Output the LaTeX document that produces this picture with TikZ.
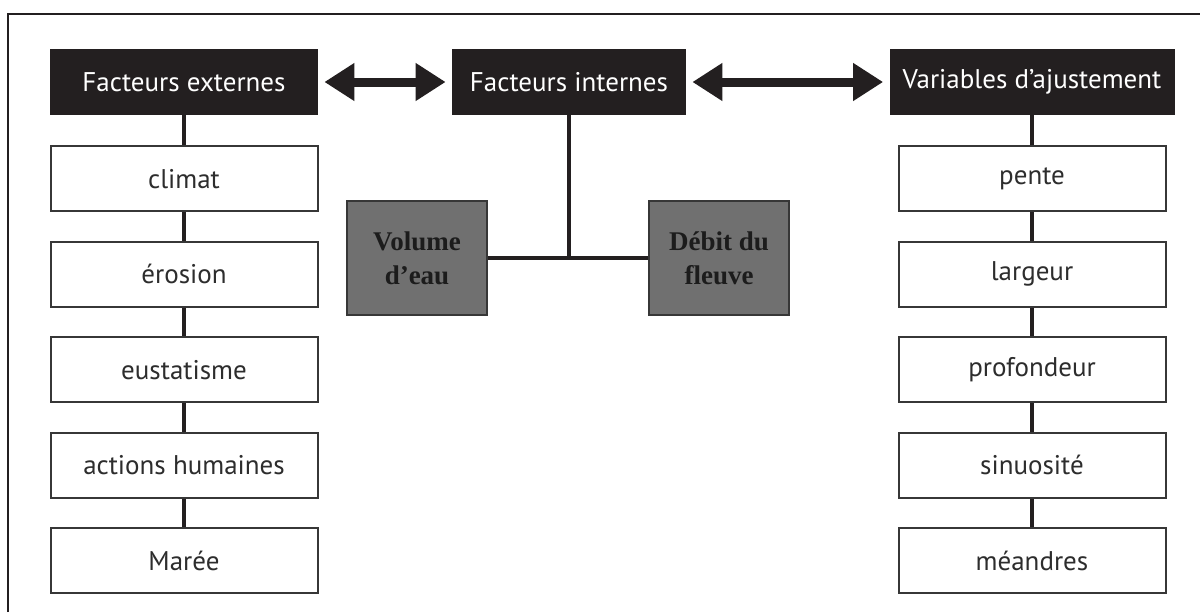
\documentclass[tikz,border=0pt]{standalone}
\usepackage{fontspec}
\setmainfont{PT Sans}
\newfontfamily\timesfont{Liberation Serif}
\usepackage{tikz}
\usetikzlibrary{arrows.meta, positioning}
\definecolor{headblack}{RGB}{35, 31, 32}
\definecolor{boxline}{RGB}{55, 55, 55}
\definecolor{midgray}{RGB}{112, 112, 112}
\definecolor{textgray}{RGB}{45, 45, 45}
\definecolor{darktext}{RGB}{28, 28, 28}

\begin{document}
\begin{tikzpicture}[
					x=0.5pt, y=-0.5pt,
					node distance=14.25pt,
					head/.style={fill=headblack, text=white, minimum height=33pt, inner sep=0pt, font=\fontsize{13.5}{16}\selectfont},
					item/.style={draw=boxline, line width=1pt, fill=white, text=textgray, minimum width=133.5pt, minimum height=32.5pt, inner sep=0pt, font=\fontsize{13.5}{16}\selectfont},
					greybox/.style={draw=boxline, line width=1pt, fill=midgray, text=darktext, minimum width=70pt, minimum height=57pt, align=center, font=\timesfont\bfseries\fontsize{13.5}{17}\selectfont},
					link/.style={headblack, line width=2pt},
					dblarrow/.style={{Triangle[length=15pt, width=18pt]}-{Triangle[length=15pt, width=18pt]}, headblack, line width=4.5pt, shorten <=3pt, shorten >=3pt}
				]
				\useasboundingbox (0,0) rectangle (1200,612);

				% Frame
				\draw[headblack, line width=1pt] (8,612) -- (8,14) -- (1200,14);

				% 1. Facteurs externes
				\node[head, minimum width=134pt] (externes) at (184,82) {Facteurs externes};
				\node[item, below=15pt of externes] (climat) {climat};
				\node[item, below=of climat] (erosion) {érosion};
				\node[item, below=of erosion] (eustatisme) {eustatisme};
				\node[item, below=of eustatisme] (actions) {actions humaines};
				\node[item, below=of actions] (maree) {Marée};

				% 2. Facteurs internes
				\node[head, minimum width=117pt] (internes) at (569,82) {Facteurs internes};
				\node[greybox] (volume) at (417,258) {Volume\\d’eau};
				\node[greybox] (debit) at (719,258) {Débit du\\fleuve};
				\coordinate (junction) at (569,258);

				% 3. Variables d'ajustement
				\node[head, minimum width=142.5pt] (ajustement) at (1032,82) {Variables d’ajustement};
				\node[item, below=15pt of ajustement] (pente) {pente};
				\node[item, below=of pente] (largeur) {largeur};
				\node[item, below=of largeur] (profondeur) {profondeur};
				\node[item, below=of profondeur] (sinuosite) {sinuosité};
				\node[item, below=of sinuosite] (meandres) {méandres};

				% Arrows
				\draw[dblarrow] (externes) -- (internes);
				\draw[dblarrow] (internes) -- (ajustement);

				% Links
				\draw[link] (externes) -- (climat);
				\draw[link] (climat) -- (erosion);
				\draw[link] (erosion) -- (eustatisme);
				\draw[link] (eustatisme) -- (actions);
				\draw[link] (actions) -- (maree);
				\draw[link] (internes) -- (junction);
				\draw[link] (volume) -- (debit);
				\draw[link] (ajustement) -- (pente);
				\draw[link] (pente) -- (largeur);
				\draw[link] (largeur) -- (profondeur);
				\draw[link] (profondeur) -- (sinuosite);
				\draw[link] (sinuosite) -- (meandres);

			\end{tikzpicture}
\end{document}
